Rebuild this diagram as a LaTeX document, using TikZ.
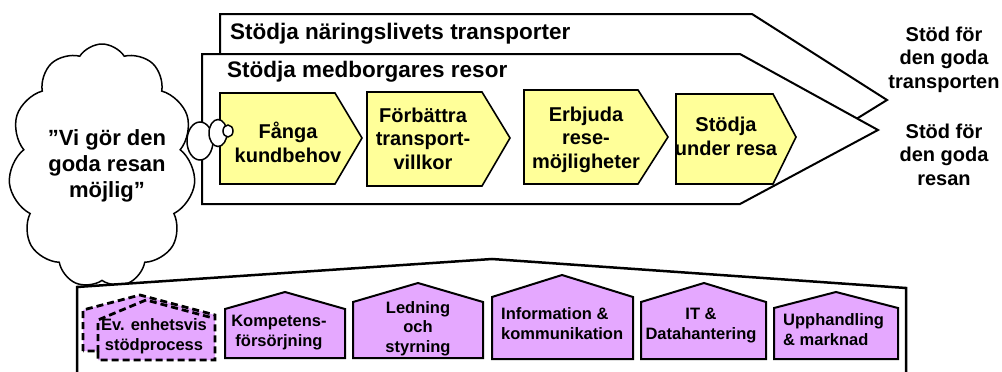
\documentclass[tikz,border=0pt]{standalone}
\usepackage{fontspec}
\setmainfont{Liberation Sans}
\usetikzlibrary{shapes.symbols,shapes.geometric}
\definecolor{boxyellow}{RGB}{255,255,153}
\definecolor{boxpink}{RGB}{229,168,255}
\begin{document}
\begin{tikzpicture}[x=1pt,y=-1pt,
  bigarrow/.style={draw=black,fill=white,line width=2pt,line join=miter},
  stepbox/.style={draw=black,fill=boxyellow,line width=1.6pt,line join=miter},
  house/.style={draw=black,fill=boxpink,line width=2pt,line join=miter},
  dashhouse/.style={draw=black,line width=2.8pt,dash pattern=on 7pt off 4pt},
  bubble/.style={ellipse,draw=black,fill=white,line width=1.5pt,inner sep=0pt},
  headlab/.style={font=\fontsize{22.5}{26}\selectfont\bfseries,inner sep=0pt,anchor=base west},
  ylab/.style={font=\fontsize{20}{23.5}\selectfont\bfseries,align=center,inner sep=0pt,anchor=base},
  sidelab/.style={font=\fontsize{20}{23.3}\selectfont\bfseries,align=center,inner sep=0pt,anchor=base},
  cloudlab/.style={font=\fontsize{22}{26}\selectfont\bfseries,align=center,inner sep=0pt,anchor=base},
  plab/.style={font=\fontsize{16.5}{19.5}\selectfont\bfseries,align=center,inner sep=0pt,anchor=base},
]
\useasboundingbox (0,0) rectangle (1002,372);
% big chevrons
\draw[bigarrow] (220,14) -- (752,14) -- (887,100) -- (790,160) -- (220,160) -- cycle;
\draw[bigarrow] (202,54) -- (740,54) -- (878,130) -- (740,204) -- (202,204) -- cycle;
\node[headlab] (hdr1) at (230,39) {Stödja näringslivets transporter};
\node[headlab] (hdr2) at (227,77) {Stödja medborgares resor};
% process steps
\draw[stepbox] (220,93) -- (335,93) -- (362,138) -- (335,184) -- (220,184) -- cycle;
\draw[stepbox] (367,92) -- (482,92) -- (510,138) -- (482,186) -- (367,186) -- cycle;
\draw[stepbox] (524,90) -- (638,90) -- (668,137) -- (638,184) -- (524,184) -- cycle;
\draw[stepbox] (676,94) -- (773,94) -- (796,137) -- (773,184) -- (676,184) -- cycle;
\node[ylab] (s1) at (288,162) {Fånga\\kundbehov};
\node[ylab] (s2) at (423,169) {Förbättra\\transport-\\villkor};
\node[ylab] (s3) at (586,168) {Erbjuda\\rese-\\möjligheter};
\node[ylab] (s4) at (726,155) {Stödja\\under resa};
% side labels
\node[sidelab] (side1) at (944,88) {Stöd för\\den goda\\transporten};
\node[sidelab] (side2) at (944,185) {Stöd för\\den goda\\resan};
% cloud
\node[cloud,draw=black,fill=white,line width=1.5pt,cloud puffs=11,cloud puff arc=115,
  cloud ignores aspect,minimum width=187pt,minimum height=244pt,inner sep=0pt] (cloud) at (102,166) {};
\node[cloudlab] (cloudtext) at (107,197) {”Vi gör den\\goda resan\\möjlig”};
% bubbles
\node[bubble,minimum width=26pt,minimum height=38pt] (b1) at (200,141) {};
\node[bubble,minimum width=18pt,minimum height=27pt] (b2) at (218,133) {};
\node[bubble,minimum width=10pt,minimum height=12pt] (b3) at (228,131) {};
% support frame
\draw[line width=2.5pt,fill=white,line join=miter] (77,374) -- (77,287) -- (492,259) -- (906,288) -- (906,374);
% dashed support process
\fill[boxpink] (83,351) -- (83,310) -- (140,295) -- (215,315) -- (215,360) -- (98,360) -- (98,351) -- cycle;
\draw[dashhouse] (83,351) -- (83,310) -- (140,295) -- (215,315) -- (215,360) -- (98,360) -- (98,351) -- cycle;
\draw[dashhouse] (98,352) -- (98,320) -- (146,300) -- (213,318);
% houses
\draw[house] (225,358) -- (225,309) -- (285,292) -- (345,309) -- (345,358) -- cycle;
\draw[house] (353,358) -- (353,302) -- (418,283) -- (483,302) -- (483,358) -- cycle;
\draw[house] (492,359) -- (492,297) -- (562,275) -- (633,297) -- (633,359) -- cycle;
\draw[house] (641,359) -- (641,302) -- (704,283) -- (766,302) -- (766,359) -- cycle;
\draw[house] (774,359) -- (774,308) -- (836,292) -- (898,308) -- (898,359) -- cycle;
\node[plab] (p1) at (154,350) {Ev. enhetsvis\\stödprocess};
\node[plab] (p2) at (279,346) {Kompetens-\\försörjning};
\node[plab] (p3) at (418,352) {Ledning\\och\\styrning};
\node[plab,align=left,anchor=base west] (p4) at (501,339) {Information \&\\kommunikation};
\node[plab] (p5) at (701,339) {IT \&\\Datahantering};
\node[plab,align=left,anchor=base west] (p6) at (783,345) {Upphandling\\\& marknad};
\end{tikzpicture}
\end{document}
